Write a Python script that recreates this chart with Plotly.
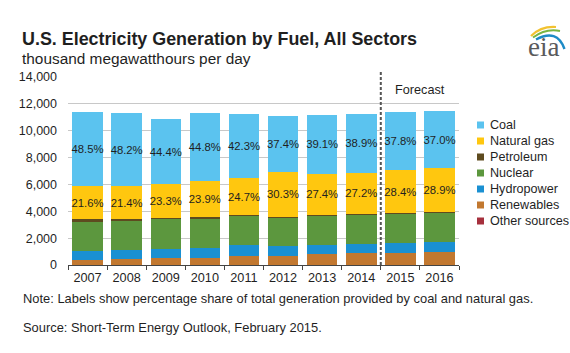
import plotly.graph_objects as go

# ---------------- data (thousand megawatthours per day) ----------------
years = ["2007", "2008", "2009", "2010", "2011", "2012", "2013", "2014", "2015", "2016"]
coal_pct = [48.5, 48.2, 44.4, 44.8, 42.3, 37.4, 39.1, 38.9, 37.8, 37.0]
gas_pct = [21.6, 21.4, 23.3, 23.9, 24.7, 30.3, 27.4, 27.2, 28.4, 28.9]
coal = [5530, 5440, 4810, 5080, 4750, 4160, 4360, 4370, 4290, 4240]
natural_gas = [2460, 2420, 2530, 2710, 2780, 3370, 3060, 3060, 3230, 3310]
petroleum = [180, 130, 100, 100, 80, 60, 70, 80, 70, 70]
nuclear = [2190, 2210, 2210, 2200, 2150, 2110, 2190, 2200, 2140, 2160]
hydropower = [670, 650, 690, 690, 840, 710, 690, 660, 710, 690]
renewables = [340, 410, 470, 520, 610, 670, 760, 840, 890, 960]
other_sources = [30, 30, 30, 30, 30, 30, 30, 30, 30, 30]

y_ticks = [0, 2000, 4000, 6000, 8000, 10000, 12000, 14000]
forecast_start = "2015"

# ---------------- style ----------------
FONT = "Liberation Sans, Arial, Helvetica, sans-serif"
TXT = "#1f1f1f"
colors = {
    "Coal": "#5BC3EF",
    "Natural gas": "#FFC70F",
    "Petroleum": "#5E4B1F",
    "Nuclear": "#5C973E",
    "Hydropower": "#1A90D2",
    "Renewables": "#C27830",
    "Other sources": "#A6303D",
}

W, H = 570, 353
L, R, T, B = 68, 111, 77, 88
PW, PH = W - L - R, H - T - B


def px(x):
    return (x - L) / PW


def py(y):
    return (H - B - y) / PH


series = [
    ("Other sources", other_sources, None),
    ("Renewables", renewables, None),
    ("Hydropower", hydropower, None),
    ("Nuclear", nuclear, None),
    ("Petroleum", petroleum, None),
    ("Natural gas", natural_gas, [f"{v:.1f}%" for v in gas_pct]),
    ("Coal", coal, [f"{v:.1f}%" for v in coal_pct]),
]

fig = go.Figure()
for name, vals, txt in series:
    fig.add_trace(go.Bar(
        x=years, y=vals, name=name,
        marker=dict(color=colors[name], line=dict(width=0)),
        text=txt,
        textposition="inside" if txt else "none",
        insidetextanchor="middle",
        textangle=0,
        constraintext="none",
        textfont=dict(family=FONT, size=11.3, color=TXT),
        showlegend=False,
        hoverinfo="skip",
    ))

shapes = []
annotations = []

# forecast divider
fi = years.index(forecast_start)
shapes.append(dict(type="line", xref="x", yref="paper", x0=fi - 0.5, x1=fi - 0.5,
                   y0=0, y1=py(70), line=dict(color="#555555", width=2, dash="3px,2px"),
                   layer="above"))
annotations.append(dict(x=(fi + len(years) - 1) / 2, y=13000, xref="x", yref="y",
                        text="Forecast", showarrow=False,
                        font=dict(family=FONT, size=12.7, color=TXT)))

# manual legend
legend_order = ["Coal", "Natural gas", "Petroleum", "Nuclear", "Hydropower", "Renewables", "Other sources"]
for i, name in enumerate(legend_order):
    cy = 125 + i * 16.0
    shapes.append(dict(type="rect", xref="paper", yref="paper",
                       x0=px(477), x1=px(484), y0=py(cy + 3.5), y1=py(cy - 3.5),
                       fillcolor=colors[name], line=dict(width=0)))
    annotations.append(dict(x=px(487.5), y=py(cy), xref="paper", yref="paper",
                            xanchor="left", yanchor="middle", text=name, showarrow=False,
                            font=dict(family=FONT, size=12.6, color=TXT)))

# titles and notes
annotations += [
    dict(x=px(20), y=py(38.8), xref="paper", yref="paper", xanchor="left", yanchor="middle",
         text="<b>U.S. Electricity Generation by Fuel, All Sectors</b>", showarrow=False,
         font=dict(family=FONT, size=17.9, color=TXT)),
    dict(x=px(20), y=py(58.3), xref="paper", yref="paper", xanchor="left", yanchor="middle",
         text="thousand megawatthours per day", showarrow=False,
         font=dict(family=FONT, size=15.4, color=TXT)),
    dict(x=px(21), y=py(298), xref="paper", yref="paper", xanchor="left", yanchor="middle",
         text="Note: Labels show percentage share of total generation provided by coal and natural gas.",
         showarrow=False, font=dict(family=FONT, size=12.9, color=TXT)),
    dict(x=px(21), y=py(327), xref="paper", yref="paper", xanchor="left", yanchor="middle",
         text="Source: Short-Term Energy Outlook, February 2015.",
         showarrow=False, font=dict(family=FONT, size=12.9, color=TXT)),
    dict(x=px(543), y=py(47), xref="paper", yref="paper", xanchor="center", yanchor="middle",
         text="eia", showarrow=False,
         font=dict(family="Liberation Serif, DejaVu Serif, serif", size=27, color="#5a5a5c")),
]


def arc(p0, c, p1, color, w):
    path = (f"M {px(p0[0])},{py(p0[1])} Q {px(c[0])},{py(c[1])} {px(p1[0])},{py(p1[1])}")
    return dict(type="path", xref="paper", yref="paper", path=path,
                line=dict(color=color, width=w))


shapes += [
    arc((531, 36), (541, 26), (556, 27), "#F2C230", 2.2),
    arc((533, 37.5), (546, 28), (560, 31), "#79B541", 2.0),
    arc((536, 39.5), (557, 28), (564.5, 49), "#1D8BC6", 2.4),
]

fig.update_layout(
    width=W, height=H,
    margin=dict(l=L, r=R, t=T, b=B, pad=0),
    paper_bgcolor="white", plot_bgcolor="white",
    barmode="stack", bargap=0.22,
    showlegend=False,
    shapes=shapes, annotations=annotations,
    font=dict(family=FONT, color=TXT),
    hovermode=False,
    xaxis=dict(
        type="category", showline=True, linecolor="#444444", linewidth=1.3,
        ticks="outside", tickson="boundaries", ticklen=4, tickcolor="#444444", tickwidth=1,
        tickfont=dict(family=FONT, size=12.7, color=TXT), showgrid=False,
        fixedrange=True,
    ),
    yaxis=dict(
        range=[0, 14000], tickvals=y_ticks, tickformat=",", showline=False, zeroline=False,
        showgrid=True, gridcolor="#C8C8C8", gridwidth=1,
        ticks="", ticklabelstandoff=10,
        tickfont=dict(family=FONT, size=12.5, color=TXT), fixedrange=True,
    ),
)

fig.write_html("out.html", config={"displayModeBar": False, "staticPlot": True})
